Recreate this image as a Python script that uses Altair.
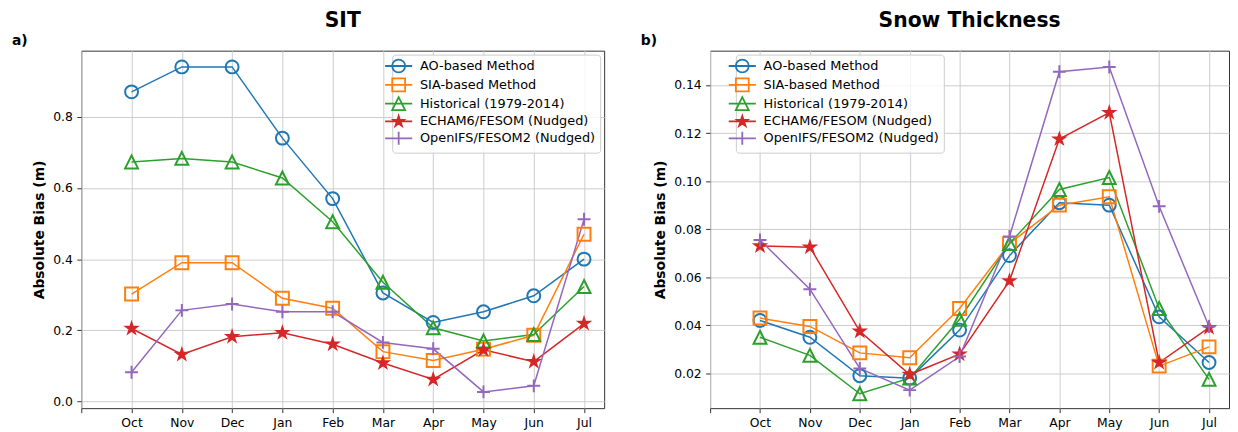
import json
import math
import altair as alt
import pandas as pd

# ---------------- data ----------------
months = ["Oct", "Nov", "Dec", "Jan", "Feb", "Mar", "Apr", "May", "Jun", "Jul"]
series_names = [
    "AO-based Method",
    "SIA-based Method",
    "Historical (1979-2014)",
    "ECHAM6/FESOM (Nudged)",
    "OpenIFS/FESOM2 (Nudged)",
]

# Sea-ice thickness absolute bias (m)
sit_ao = [0.87, 0.94, 0.94, 0.74, 0.57, 0.305, 0.222, 0.252, 0.297, 0.40]
sit_sia = [0.302, 0.39, 0.39, 0.29, 0.262, 0.14, 0.115, 0.147, 0.186, 0.47]
sit_hist = [0.673, 0.683, 0.673, 0.628, 0.505, 0.335, 0.207, 0.17, 0.188, 0.323]
sit_echam = [0.205, 0.132, 0.182, 0.193, 0.161, 0.108, 0.062, 0.145, 0.112, 0.219]
sit_openifs = [0.082, 0.256, 0.274, 0.252, 0.252, 0.166, 0.148, 0.027, 0.044, 0.512]

# Snow thickness absolute bias (m)
snow_ao = [0.042, 0.035, 0.019, 0.018, 0.038, 0.069, 0.091, 0.090, 0.0435, 0.0245]
snow_sia = [0.043, 0.0395, 0.0285, 0.0265, 0.047, 0.074, 0.090, 0.0935, 0.023, 0.031]
snow_hist = [0.035, 0.0275, 0.0115, 0.018, 0.0425, 0.074, 0.0965, 0.1015, 0.047, 0.0175]
snow_echam = [0.073, 0.0725, 0.0375, 0.0195, 0.028, 0.0585, 0.1175, 0.1285, 0.0245, 0.039]
snow_openifs = [0.0755, 0.055, 0.022, 0.013, 0.027, 0.077, 0.1455, 0.1475, 0.0895, 0.0395]

sit_ticks = [0.0, 0.2, 0.4, 0.6, 0.8]
snow_ticks = [0.02, 0.04, 0.06, 0.08, 0.10, 0.12, 0.14]

# ---------------- styles ----------------
colors = ["#1f77b4", "#ff7f0e", "#2ca02c", "#d62728", "#9467bd"]
FONT = "DejaVu Sans"


def star_path(scale=0.85):
    pts = []
    for k in range(10):
        r = scale * (1.0 if k % 2 == 0 else 0.381966)
        a = math.radians(-90 + 36 * k)
        pts.append(f"{r * math.cos(a):.4f},{r * math.sin(a):.4f}")
    return "M" + "L".join(pts) + "Z"


circle_p = "M1,0A1,1 0 1,1 -1,0A1,1 0 1,1 1,0Z"
square_p = "M-1,-1L1,-1L1,1L-1,1Z"
tri_p = "M0,-1L-1,1L1,1Z"
star_p = star_path()
plus_p = "M-1,0L1,0M0,-1L0,1"
marker_paths = [circle_p, square_p, tri_p, star_p, plus_p]
line_seg = "M-2.1,0L2.1,0"
legend_paths = [line_seg + p for p in marker_paths]
fills = ["transparent", "transparent", "transparent", "#d62728", "transparent"]

x_labels_expr = json.dumps([""] + months) + "[datum.value + 1]"


def make_df(values_list):
    rows = []
    for name, vals in zip(series_names, values_list):
        for i, (m, v) in enumerate(zip(months, vals)):
            rows.append({"idx": i, "month": m, "series": name, "value": v})
    return pd.DataFrame(rows)


def panel(df, title, letter, ydomain, yticks, yfmt, width, legend_x):
    base = alt.Chart(df)
    x = alt.X(
        "idx:Q",
        scale=alt.Scale(domain=[-1, 9.4], nice=False, zero=False),
        axis=alt.Axis(
            values=list(range(-1, 10)),
            labelExpr=x_labels_expr,
            title=None,
            grid=True,
        ),
    )
    y = alt.Y(
        "value:Q",
        scale=alt.Scale(domain=ydomain, nice=False, zero=False),
        axis=alt.Axis(
            values=yticks,
            format=yfmt,
            title="Absolute Bias (m)",
            grid=True,
            labelPadding=4.5,
        ),
    )
    stroke_scale = alt.Scale(domain=series_names, range=colors)
    lines = base.mark_line(strokeWidth=1.5).encode(
        x=x,
        y=y,
        stroke=alt.Stroke("series:N", scale=stroke_scale, legend=None, sort=series_names),
    )
    points = base.mark_point(size=170, strokeWidth=2, opacity=1, filled=False).encode(
        x=x,
        y=y,
        stroke=alt.Stroke("series:N", scale=stroke_scale, legend=None, sort=series_names),
        fill=alt.Fill("series:N", scale=alt.Scale(domain=series_names, range=fills), legend=None),
        shape=alt.Shape("series:N", scale=alt.Scale(domain=series_names, range=marker_paths), legend=None),
    )
    leg = alt.Legend(
        title=None,
        orient="none",
        legendX=legend_x,
        legendY=4,
        labelFont=FONT,
        labelFontSize=13,
        labelColor="#000000",
        labelLimit=400,
        symbolSize=170,
        symbolStrokeWidth=1.8,
        symbolOpacity=1,
        rowPadding=-2,
        padding=4,
        symbolOffset=-5,
        labelOffset=14,
        fillColor="rgba(255,255,255,0.8)",
        strokeColor="#cccccc",
        cornerRadius=3,
    )
    legend_layer = base.transform_filter("false").mark_point(
        size=170, strokeWidth=2, opacity=1, filled=False
    ).encode(
        x=x,
        y=y,
        stroke=alt.Stroke("series:N", scale=stroke_scale, legend=leg),
        fill=alt.Fill("series:N", scale=alt.Scale(domain=series_names, range=fills), legend=leg),
        shape=alt.Shape("series:N", scale=alt.Scale(domain=series_names, range=legend_paths), legend=leg),
    )
    letter_df = pd.DataFrame({"t": [letter]})
    letter_layer = alt.Chart(letter_df).mark_text(
        font=FONT, fontSize=14, fontWeight="bold", align="left", baseline="middle", color="#000000"
    ).encode(x=alt.value(-70), y=alt.value(-10), text="t:N")

    return (
        alt.layer(lines, points, legend_layer, letter_layer)
        .resolve_scale(stroke="independent", fill="independent", shape="independent")
        .properties(
            width=width,
            height=361,
            title=alt.TitleParams(
                title,
                font=FONT,
                fontSize=20.5,
                fontWeight="bold",
                color="#000000",
                anchor="middle",
                frame="group",
                baseline="alphabetic",
                offset=-14,
            ),
        )
    )


left = panel(
    make_df([sit_ao, sit_sia, sit_hist, sit_echam, sit_openifs]),
    "SIT", "a)", [-0.0187, 0.9857], sit_ticks, ".1f", 528, 314,
)
right = panel(
    make_df([snow_ao, snow_sia, snow_hist, snow_echam, snow_openifs]),
    "Snow Thickness", "b)", [0.0055, 0.1543], snow_ticks, ".2f", 524, 26,
)

chart = (
    alt.hconcat(left, right, spacing=35)
    .resolve_scale(stroke="independent", fill="independent", shape="independent")
    .resolve_legend(stroke="independent", fill="independent", shape="independent")
    .properties(padding={"left": 3, "top": 1, "right": 0, "bottom": 0})
    .configure_view(stroke="#333333", strokeWidth=1)
    .configure_axis(
        domain=False,
        labelFont=FONT,
        labelFontSize=12.5,
        labelColor="#000000",
        titleFont=FONT,
        titleFontSize=14,
        titleFontWeight="bold",
        titleColor="#000000",
        tickColor="#333333",
        tickSize=4.5,
        labelPadding=3,
        gridColor="#cccccc",
        gridWidth=1,
        titlePadding=6,
    )
    .configure_axisX(labelPadding=4)
)

chart.save("out.html", embed_options={"renderer": "svg", "actions": False})
